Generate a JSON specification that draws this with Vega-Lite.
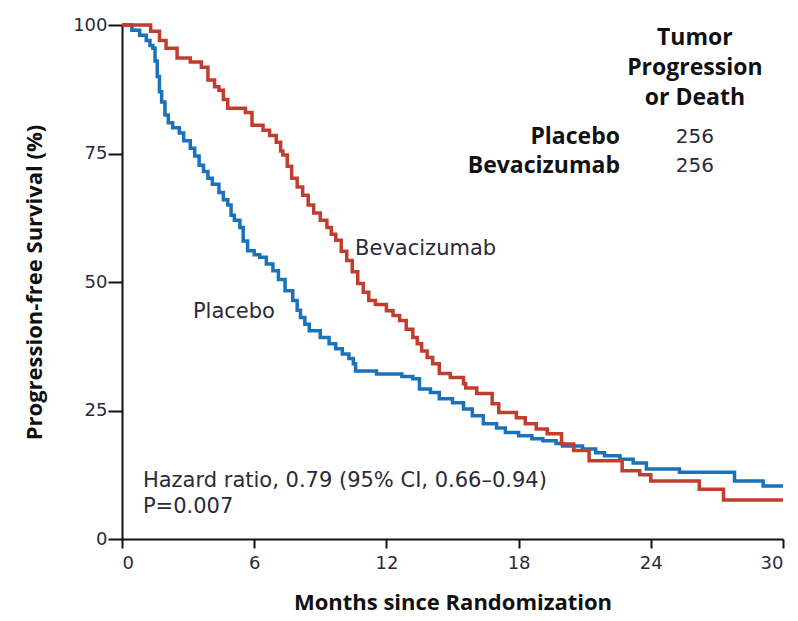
{
  "$schema": "https://vega.github.io/schema/vega-lite/v6.json",
  "width": 661,
  "height": 514,
  "autosize": {"type": "none"},
  "padding": {"left": 122, "top": 25, "right": 15, "bottom": 82},
  "background": "white",
  "config": {
    "view": {"stroke": null},
    "font": "DejaVu Sans",
    "axis": {
      "domainColor": "#111",
      "domainWidth": 2,
      "tickColor": "#111",
      "tickWidth": 2,
      "grid": false,
      "labelFont": "DejaVu Sans",
      "labelFontSize": 18,
      "labelColor": "#2a2a3a",
      "titleFont": "Open Sans",
      "titleFontSize": 22,
      "titleFontWeight": "bold",
      "titleColor": "#111"
    }
  },
  "datasets": {
    "km": [
      {"t": 0, "s": 100, "g": "Placebo"},
      {"t": 0.45, "s": 99, "g": "Placebo"},
      {"t": 0.8, "s": 98, "g": "Placebo"},
      {"t": 1.1, "s": 97, "g": "Placebo"},
      {"t": 1.27, "s": 96, "g": "Placebo"},
      {"t": 1.4, "s": 95.5, "g": "Placebo"},
      {"t": 1.5, "s": 93, "g": "Placebo"},
      {"t": 1.6, "s": 90, "g": "Placebo"},
      {"t": 1.7, "s": 87, "g": "Placebo"},
      {"t": 1.8, "s": 85, "g": "Placebo"},
      {"t": 1.95, "s": 82.5, "g": "Placebo"},
      {"t": 2.1, "s": 81, "g": "Placebo"},
      {"t": 2.3, "s": 80, "g": "Placebo"},
      {"t": 2.6, "s": 79, "g": "Placebo"},
      {"t": 2.8, "s": 77.5, "g": "Placebo"},
      {"t": 3.1, "s": 76, "g": "Placebo"},
      {"t": 3.3, "s": 74.5, "g": "Placebo"},
      {"t": 3.5, "s": 72.7, "g": "Placebo"},
      {"t": 3.7, "s": 71.5, "g": "Placebo"},
      {"t": 3.9, "s": 70.2, "g": "Placebo"},
      {"t": 4.1, "s": 69, "g": "Placebo"},
      {"t": 4.4, "s": 67.4, "g": "Placebo"},
      {"t": 4.6, "s": 66, "g": "Placebo"},
      {"t": 4.8, "s": 65, "g": "Placebo"},
      {"t": 4.95, "s": 63, "g": "Placebo"},
      {"t": 5.1, "s": 62, "g": "Placebo"},
      {"t": 5.35, "s": 60.6, "g": "Placebo"},
      {"t": 5.5, "s": 58, "g": "Placebo"},
      {"t": 5.7, "s": 56.1, "g": "Placebo"},
      {"t": 6.0, "s": 55.3, "g": "Placebo"},
      {"t": 6.25, "s": 54.8, "g": "Placebo"},
      {"t": 6.55, "s": 53.5, "g": "Placebo"},
      {"t": 6.85, "s": 52.2, "g": "Placebo"},
      {"t": 7.1, "s": 50.5, "g": "Placebo"},
      {"t": 7.4, "s": 48.3, "g": "Placebo"},
      {"t": 7.75, "s": 46.4, "g": "Placebo"},
      {"t": 7.95, "s": 44.5, "g": "Placebo"},
      {"t": 8.1, "s": 43.1, "g": "Placebo"},
      {"t": 8.3, "s": 41.8, "g": "Placebo"},
      {"t": 8.5, "s": 40.5, "g": "Placebo"},
      {"t": 9.0, "s": 39.2, "g": "Placebo"},
      {"t": 9.4, "s": 38, "g": "Placebo"},
      {"t": 9.7, "s": 37, "g": "Placebo"},
      {"t": 10.0, "s": 36, "g": "Placebo"},
      {"t": 10.3, "s": 35.1, "g": "Placebo"},
      {"t": 10.5, "s": 34.1, "g": "Placebo"},
      {"t": 10.6, "s": 32.7, "g": "Placebo"},
      {"t": 11.55, "s": 32.1, "g": "Placebo"},
      {"t": 12.7, "s": 31.6, "g": "Placebo"},
      {"t": 13.2, "s": 31.2, "g": "Placebo"},
      {"t": 13.5, "s": 29.2, "g": "Placebo"},
      {"t": 14.0, "s": 28.5, "g": "Placebo"},
      {"t": 14.4, "s": 27.3, "g": "Placebo"},
      {"t": 15.0, "s": 26.5, "g": "Placebo"},
      {"t": 15.5, "s": 25.3, "g": "Placebo"},
      {"t": 15.9, "s": 24, "g": "Placebo"},
      {"t": 16.4, "s": 22.4, "g": "Placebo"},
      {"t": 17.0, "s": 21.6, "g": "Placebo"},
      {"t": 17.4, "s": 20.7, "g": "Placebo"},
      {"t": 18.0, "s": 20.1, "g": "Placebo"},
      {"t": 18.6, "s": 19.5, "g": "Placebo"},
      {"t": 19.1, "s": 19.1, "g": "Placebo"},
      {"t": 19.7, "s": 18.6, "g": "Placebo"},
      {"t": 20.0, "s": 18.1, "g": "Placebo"},
      {"t": 20.9, "s": 17.5, "g": "Placebo"},
      {"t": 21.5, "s": 16.8, "g": "Placebo"},
      {"t": 21.9, "s": 16.2, "g": "Placebo"},
      {"t": 22.6, "s": 15.5, "g": "Placebo"},
      {"t": 23.2, "s": 14.8, "g": "Placebo"},
      {"t": 23.8, "s": 13.6, "g": "Placebo"},
      {"t": 25.3, "s": 13.0, "g": "Placebo"},
      {"t": 27.8, "s": 11.3, "g": "Placebo"},
      {"t": 29.1, "s": 10.3, "g": "Placebo"},
      {"t": 30, "s": 10.3, "g": "Placebo"},
      {"t": 0, "s": 100, "g": "Bevacizumab"},
      {"t": 1.3, "s": 98.8, "g": "Bevacizumab"},
      {"t": 1.7, "s": 97, "g": "Bevacizumab"},
      {"t": 2.0, "s": 95.5, "g": "Bevacizumab"},
      {"t": 2.5, "s": 93.6, "g": "Bevacizumab"},
      {"t": 3.1, "s": 92.8, "g": "Bevacizumab"},
      {"t": 3.6, "s": 91.8, "g": "Bevacizumab"},
      {"t": 3.9, "s": 89.3, "g": "Bevacizumab"},
      {"t": 4.2, "s": 88, "g": "Bevacizumab"},
      {"t": 4.4, "s": 87.3, "g": "Bevacizumab"},
      {"t": 4.6, "s": 85.5, "g": "Bevacizumab"},
      {"t": 4.8, "s": 83.8, "g": "Bevacizumab"},
      {"t": 5.6, "s": 83, "g": "Bevacizumab"},
      {"t": 5.9, "s": 80.5, "g": "Bevacizumab"},
      {"t": 6.4, "s": 79.5, "g": "Bevacizumab"},
      {"t": 6.7, "s": 78.5, "g": "Bevacizumab"},
      {"t": 7.0, "s": 77.2, "g": "Bevacizumab"},
      {"t": 7.2, "s": 75.5, "g": "Bevacizumab"},
      {"t": 7.3, "s": 74.7, "g": "Bevacizumab"},
      {"t": 7.5, "s": 72.5, "g": "Bevacizumab"},
      {"t": 7.7, "s": 70.2, "g": "Bevacizumab"},
      {"t": 7.95, "s": 68.5, "g": "Bevacizumab"},
      {"t": 8.2, "s": 66.9, "g": "Bevacizumab"},
      {"t": 8.45, "s": 65, "g": "Bevacizumab"},
      {"t": 8.7, "s": 63.4, "g": "Bevacizumab"},
      {"t": 9.0, "s": 62, "g": "Bevacizumab"},
      {"t": 9.3, "s": 60.6, "g": "Bevacizumab"},
      {"t": 9.5, "s": 59.3, "g": "Bevacizumab"},
      {"t": 9.7, "s": 58.1, "g": "Bevacizumab"},
      {"t": 9.95, "s": 56, "g": "Bevacizumab"},
      {"t": 10.2, "s": 54.2, "g": "Bevacizumab"},
      {"t": 10.45, "s": 52, "g": "Bevacizumab"},
      {"t": 10.7, "s": 49.7, "g": "Bevacizumab"},
      {"t": 10.95, "s": 48, "g": "Bevacizumab"},
      {"t": 11.2, "s": 46.4, "g": "Bevacizumab"},
      {"t": 11.5, "s": 45.6, "g": "Bevacizumab"},
      {"t": 12.0, "s": 44.4, "g": "Bevacizumab"},
      {"t": 12.3, "s": 43.5, "g": "Bevacizumab"},
      {"t": 12.6, "s": 42.5, "g": "Bevacizumab"},
      {"t": 12.9, "s": 40.8, "g": "Bevacizumab"},
      {"t": 13.2, "s": 39.2, "g": "Bevacizumab"},
      {"t": 13.4, "s": 38, "g": "Bevacizumab"},
      {"t": 13.6, "s": 36.6, "g": "Bevacizumab"},
      {"t": 13.85, "s": 35.3, "g": "Bevacizumab"},
      {"t": 14.1, "s": 34.1, "g": "Bevacizumab"},
      {"t": 14.4, "s": 32.2, "g": "Bevacizumab"},
      {"t": 14.9, "s": 31.4, "g": "Bevacizumab"},
      {"t": 15.5, "s": 30.2, "g": "Bevacizumab"},
      {"t": 15.6, "s": 29.4, "g": "Bevacizumab"},
      {"t": 16.1, "s": 28.3, "g": "Bevacizumab"},
      {"t": 16.8, "s": 26.3, "g": "Bevacizumab"},
      {"t": 17.1, "s": 24.6, "g": "Bevacizumab"},
      {"t": 17.9, "s": 23.6, "g": "Bevacizumab"},
      {"t": 18.3, "s": 22.4, "g": "Bevacizumab"},
      {"t": 18.8, "s": 21.4, "g": "Bevacizumab"},
      {"t": 19.3, "s": 20.5, "g": "Bevacizumab"},
      {"t": 19.95, "s": 18.5, "g": "Bevacizumab"},
      {"t": 20.5, "s": 17.2, "g": "Bevacizumab"},
      {"t": 21.2, "s": 15.2, "g": "Bevacizumab"},
      {"t": 22.7, "s": 13.3, "g": "Bevacizumab"},
      {"t": 23.5, "s": 12.5, "g": "Bevacizumab"},
      {"t": 24.0, "s": 11.3, "g": "Bevacizumab"},
      {"t": 26.2, "s": 9.7, "g": "Bevacizumab"},
      {"t": 27.3, "s": 7.6, "g": "Bevacizumab"},
      {"t": 30, "s": 7.6, "g": "Bevacizumab"}
    ],
    "notes": [
      {"t": 10.58, "s": 56.5, "label": "Bevacizumab"},
      {"t": 3.22, "s": 44.2, "label": "Placebo"},
      {"t": 0.95, "s": 11.3, "label": "Hazard ratio, 0.79 (95% CI, 0.66–0.94)"},
      {"t": 0.95, "s": 6.2, "label": "P=0.007"}
    ],
    "heads": [
      {"t": 26.0, "s": 97.5, "label": "Tumor"},
      {"t": 26.0, "s": 91.6, "label": "Progression"},
      {"t": 26.0, "s": 85.8, "label": "or Death"}
    ],
    "rows": [
      {"t": 22.6, "s": 78.2, "label": "Placebo"},
      {"t": 22.6, "s": 72.5, "label": "Bevacizumab"}
    ],
    "counts": [
      {"t": 26.0, "s": 78.2, "label": "256"},
      {"t": 26.0, "s": 72.5, "label": "256"}
    ]
  },
  "layer": [
    {
      "data": {"name": "km"},
      "mark": {"type": "line", "interpolate": "step-after", "strokeWidth": 3.5, "clip": false},
      "encoding": {
        "x": {
          "field": "t", "type": "quantitative",
          "scale": {"domain": [0, 30], "nice": false, "zero": false},
          "axis": {"values": [0, 6, 12, 18, 24, 30], "title": "Months since Randomization", "tickSize": 9, "titlePadding": 20, "labelPadding": 6}
        },
        "y": {
          "field": "s", "type": "quantitative",
          "scale": {"domain": [0, 100], "nice": false},
          "axis": {"values": [0, 25, 50, 75, 100], "title": "Progression-free Survival (%)", "tickSize": 14, "titlePadding": 26, "labelPadding": 1}
        },
        "color": {
          "field": "g", "type": "nominal",
          "scale": {"domain": ["Placebo", "Bevacizumab"], "range": ["#1a73ba", "#c13d2f"]},
          "legend": null
        },
        "order": {"field": "t", "type": "quantitative"}
      }
    },
    {
      "data": {"name": "notes"},
      "mark": {"type": "text", "align": "left", "baseline": "middle", "font": "DejaVu Sans", "fontSize": 21, "color": "#2a2a3a"},
      "encoding": {
        "x": {"field": "t", "type": "quantitative"},
        "y": {"field": "s", "type": "quantitative"},
        "text": {"field": "label"}
      }
    },
    {
      "data": {"name": "heads"},
      "mark": {"type": "text", "align": "center", "baseline": "middle", "font": "Open Sans", "fontSize": 23, "fontWeight": "bold", "color": "#111"},
      "encoding": {
        "x": {"field": "t", "type": "quantitative"},
        "y": {"field": "s", "type": "quantitative"},
        "text": {"field": "label"}
      }
    },
    {
      "data": {"name": "rows"},
      "mark": {"type": "text", "align": "right", "baseline": "middle", "font": "Open Sans", "fontSize": 23, "fontWeight": "bold", "color": "#111"},
      "encoding": {
        "x": {"field": "t", "type": "quantitative"},
        "y": {"field": "s", "type": "quantitative"},
        "text": {"field": "label"}
      }
    },
    {
      "data": {"name": "counts"},
      "mark": {"type": "text", "align": "center", "baseline": "middle", "font": "DejaVu Sans", "fontSize": 20, "color": "#2a2a3a"},
      "encoding": {
        "x": {"field": "t", "type": "quantitative"},
        "y": {"field": "s", "type": "quantitative"},
        "text": {"field": "label"}
      }
    }
  ]
}
